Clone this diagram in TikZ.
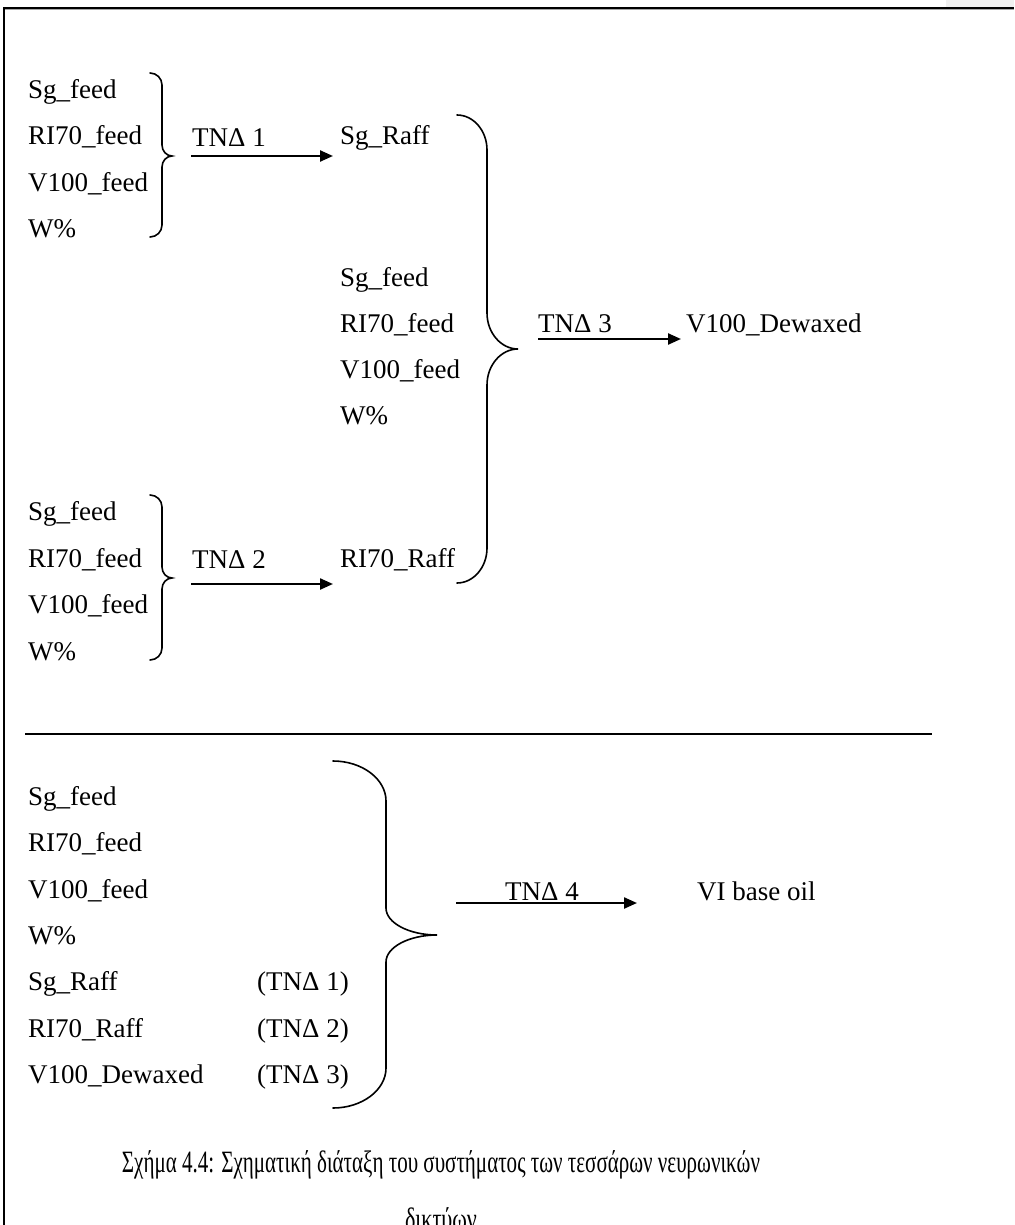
\documentclass[tikz,border=0pt]{standalone}
\usepackage{fontspec}
\usepackage{graphicx}
\setmainfont{Liberation Serif}
\usetikzlibrary{arrows.meta}

% curly brace opening to the left: ends at xe, spine at xv, tip at xt
% #1 xe, #2 xv, #3 xt, #4 ytop, #5 ymid, #6 ybot, #7 end-curve height, #8 mid-curve height
\newcommand{\curlybr}[8]{%
  \draw[bracestyle]
    (#1,#4) .. controls ({#1+0.55*(#2-#1)},#4) and (#2,{#4+0.45*#7}) .. (#2,{#4+#7})
    -- (#2,{#5-#8})
    .. controls (#2,{#5-0.45*#8}) and ({#3-0.55*(#3-#2)},#5) .. (#3,#5)
    .. controls ({#3-0.55*(#3-#2)},#5) and (#2,{#5+0.45*#8}) .. (#2,{#5+#8})
    -- (#2,{#6-#7})
    .. controls (#2,{#6-0.45*#7}) and ({#1+0.55*(#2-#1)},#6) .. (#1,#6);%
}

\begin{document}
\begin{tikzpicture}[x=1pt,y=-1pt,
  lbl/.style={anchor=base west, inner sep=0pt, font=\fontsize{27}{32}\selectfont},
  captext/.style={anchor=base, inner sep=0pt, font=\fontsize{27}{32}\selectfont},
  flow/.style={line width=2.3pt, -{Triangle[length=13pt,width=11pt]}},
  bracestyle/.style={line width=1.6pt, line cap=round},
  frame/.style={line width=1.6pt},
]
\useasboundingbox (0,0) rectangle (1014,1225);

% page frame
\fill[black!6] (946,0) rectangle (1014,7);
\draw[black!35, line width=1pt] (5,9.6) -- (1014,9.6);
\draw[frame] (4,1225) -- (4,8) -- (1014,8);

% ---- network 1 ----
\node[lbl] (a1) at (28,99)  {Sg\_feed};
\node[lbl] (a2) at (28,145) {RI70\_feed};
\node[lbl] (a3) at (28,191) {V100\_feed};
\node[lbl] (a4) at (28,237) {W\%};
\curlybr{150}{162}{172}{73}{156}{237}{12}{11}
\node[lbl] (n1) at (192,147) {TNΔ 1};
\node[lbl] (sgraff) at (340,145) {Sg\_Raff};
\coordinate (n1s) at (191,156);
\coordinate (n1e) at (333,156);
\draw[flow] (n1s) -- (n1e);

% ---- network 2 ----
\node[lbl] (b1) at (28,520) {Sg\_feed};
\node[lbl] (b2) at (28,567) {RI70\_feed};
\node[lbl] (b3) at (28,613) {V100\_feed};
\node[lbl] (b4) at (28,660) {W\%};
\curlybr{150}{162}{172}{495}{578}{660}{12}{11}
\node[lbl] (n2) at (192,568) {TNΔ 2};
\node[lbl] (riraff) at (340,567) {RI70\_Raff};
\coordinate (n2s) at (191,584);
\coordinate (n2e) at (333,584);
\draw[flow] (n2s) -- (n2e);

% ---- network 3 ----
\node[lbl] (c1) at (340,286) {Sg\_feed};
\node[lbl] (c2) at (340,332) {RI70\_feed};
\node[lbl] (c3) at (340,378) {V100\_feed};
\node[lbl] (c4) at (340,424) {W\%};
\curlybr{457}{487}{518}{115}{349}{583}{35}{36}
\node[lbl] (n3) at (538,332) {TNΔ 3};
\node[lbl] (dewax) at (686,332) {V100\_Dewaxed};
\coordinate (n3s) at (538,339);
\coordinate (n3e) at (681,339);
\draw[flow] (n3s) -- (n3e);

% separator
\draw[line width=2.4pt] (25,734) -- (932,734);

% ---- network 4 ----
\node[lbl] (d1) at (28,805)  {Sg\_feed};
\node[lbl] (d2) at (28,851)  {RI70\_feed};
\node[lbl] (d3) at (28,898)  {V100\_feed};
\node[lbl] (d4) at (28,944)  {W\%};
\node[lbl] (d5) at (28,990)  {Sg\_Raff};
\node[lbl] (d6) at (28,1037) {RI70\_Raff};
\node[lbl] (d7) at (28,1083) {V100\_Dewaxed};
\node[lbl] (e5) at (257,990)  {(TNΔ 1)};
\node[lbl] (e6) at (257,1037) {(TNΔ 2)};
\node[lbl] (e7) at (257,1083) {(TNΔ 3)};
\curlybr{333}{386}{437}{761}{935}{1108}{40}{27}
\node[lbl] (n4) at (505,900) {TNΔ 4};
\node[lbl] (vi) at (697,900) {VI base oil};
\coordinate (n4s) at (456,903);
\coordinate (n4e) at (637,903);
\draw[flow] (n4s) -- (n4e);

% caption, second line runs off the lower page edge
\node[captext] (cap1) at (441,1172) {\resizebox{638pt}{1.15\height}{Σχήμα 4.4: Σχηματική διάταξη του συστήματος των τεσσάρων νευρωνικών}};
\node[captext] (cap2) at (441,1229) {\resizebox{72pt}{1.15\height}{δικτύων}};
\end{tikzpicture}
\end{document}
